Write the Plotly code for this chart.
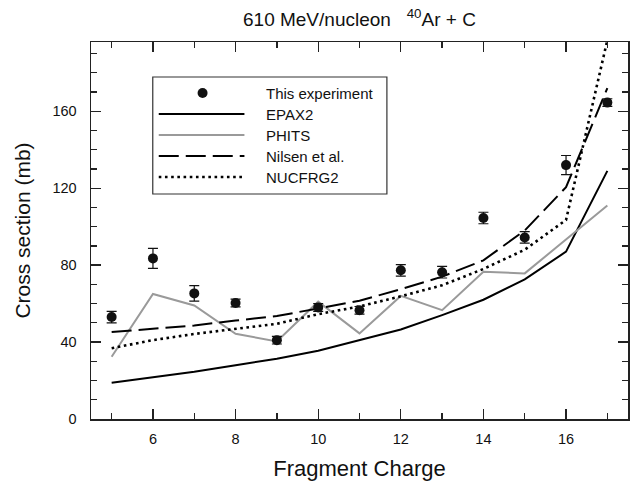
import plotly.graph_objects as go

# ---- data ----
charge = [5, 6, 7, 8, 9, 10, 11, 12, 13, 14, 15, 16, 17]
exp_sigma = [53, 83.5, 65.3, 60.3, 41, 58, 56.5, 77.3, 76.3, 104.5, 94.4, 132, 164.5]
exp_err = [3, 5.2, 4, 2, 2, 2, 2, 3, 3, 3, 3, 5, 2]
epax2 = [18.9, 21.8, 24.6, 28, 31.3, 35.5, 40.8, 46.5, 54, 62, 72.6, 87, 129]
phits = [32.4, 65, 59, 44.3, 40.3, 61, 44.5, 64, 56.6, 76.6, 75.7, 93.5, 111]
nilsen = [45.2, 46.8, 48.6, 51.2, 53.5, 57.5, 61.5, 67.5, 74, 82.5, 98, 120.5, 172]
nucfrg2 = [36.8, 41, 44.2, 47, 49.5, 54.5, 58.5, 63.8, 69.5, 78, 88, 103.5, 197]

legend_names = ["This experiment", "EPAX2", "PHITS", "Nilsen et al.", "NUCFRG2"]

FONT = "Liberation Sans, Arial, sans-serif"
W, H = 634, 487
L, R, T, B = 91, 4, 42, 68
PW, PH = W - L - R, H - T - B

def px(xp):
    return (xp - L) / PW

def py(yp):
    return (H - B - yp) / PH

fig = go.Figure()

styles = {
    "EPAX2": dict(color="black", width=2, dash="solid"),
    "PHITS": dict(color="#9a9a9a", width=2, dash="solid"),
    "Nilsen et al.": dict(color="black", width=2, dash="20px,7px"),
    "NUCFRG2": dict(color="black", width=2.6, dash="2.6px,3.6px"),
}
series = {"EPAX2": epax2, "PHITS": phits, "Nilsen et al.": nilsen, "NUCFRG2": nucfrg2}

for name, vals in series.items():
    fig.add_trace(go.Scatter(x=charge, y=vals, mode="lines", name=name,
                             line=styles[name], showlegend=False))

fig.add_trace(go.Scatter(
    x=charge, y=exp_sigma, mode="markers", name="This experiment",
    marker=dict(color="#111", size=10, symbol="circle"),
    error_y=dict(type="data", array=exp_err, visible=True, color="#111",
                 thickness=1.2, width=5),
    showlegend=False))

# ---- custom legend box ----
shapes = []
annotations = []
shapes.append(dict(type="rect", xref="paper", yref="paper",
                   x0=px(153), x1=px(388), y0=py(194), y1=py(77),
                   line=dict(color="#333", width=1.2), fillcolor="white", layer="above"))
rows = [93, 114, 135, 156, 177]
for i, name in enumerate(legend_names):
    yy = py(rows[i])
    if i == 0:
        shapes.append(dict(type="circle", xref="paper", yref="paper",
                           xsizemode="pixel", ysizemode="pixel",
                           xanchor=px(203), yanchor=yy,
                           x0=-5, x1=5, y0=-5, y1=5,
                           fillcolor="#111", line=dict(color="#111", width=0),
                           layer="above"))
    else:
        st = styles[name]
        shapes.append(dict(type="line", xref="paper", yref="paper",
                           x0=px(159), x1=px(245), y0=yy, y1=yy,
                           line=dict(color=st["color"], width=st["width"], dash=st["dash"]),
                           layer="above"))
    annotations.append(dict(text=name, xref="paper", yref="paper",
                            x=px(265), y=yy, xanchor="left", yanchor="middle",
                            showarrow=False, font=dict(family=FONT, size=15, color="#111")))

annotations.append(dict(text="610 MeV/nucleon   <sup>40</sup>Ar + C", xref="paper", yref="paper",
                        x=px(360), y=py(18), xanchor="center", yanchor="middle",
                        showarrow=False, font=dict(family=FONT, size=19, color="#111")))

axis_common = dict(
    showline=True, linecolor="#222", linewidth=1.5, mirror="ticks",
    ticks="inside", ticklen=10, tickwidth=1.3, tickcolor="#222",
    showgrid=False, zeroline=False,
    tickfont=dict(family=FONT, size=14.5, color="#111"),
)

fig.update_xaxes(range=[4.5, 17.5], tick0=0, dtick=2,
                 minor=dict(ticks="inside", ticklen=6, dtick=1, tick0=0, tickwidth=1.3, tickcolor="#222"),
                 title=dict(text="Fragment Charge", font=dict(family=FONT, size=22, color="#111"), standoff=14),
                 ticklabelstandoff=6, **axis_common)
fig.update_yaxes(range=[0, 196], tick0=0, dtick=40,
                 minor=dict(ticks="inside", ticklen=6, dtick=10, tick0=0, tickwidth=1.3, tickcolor="#222"),
                 title=dict(text="Cross section (mb)", font=dict(family=FONT, size=21, color="#111"), standoff=16),
                 ticklabelstandoff=10, **axis_common)

fig.update_layout(width=W, height=H, margin=dict(l=L, r=R, t=T, b=B),
                  plot_bgcolor="white", paper_bgcolor="white",
                  shapes=shapes, annotations=annotations, showlegend=False,
                  hovermode=False)

fig.write_html("out.html", config={"displayModeBar": False, "staticPlot": True},
               post_script="document.body.style.margin='0px';")
